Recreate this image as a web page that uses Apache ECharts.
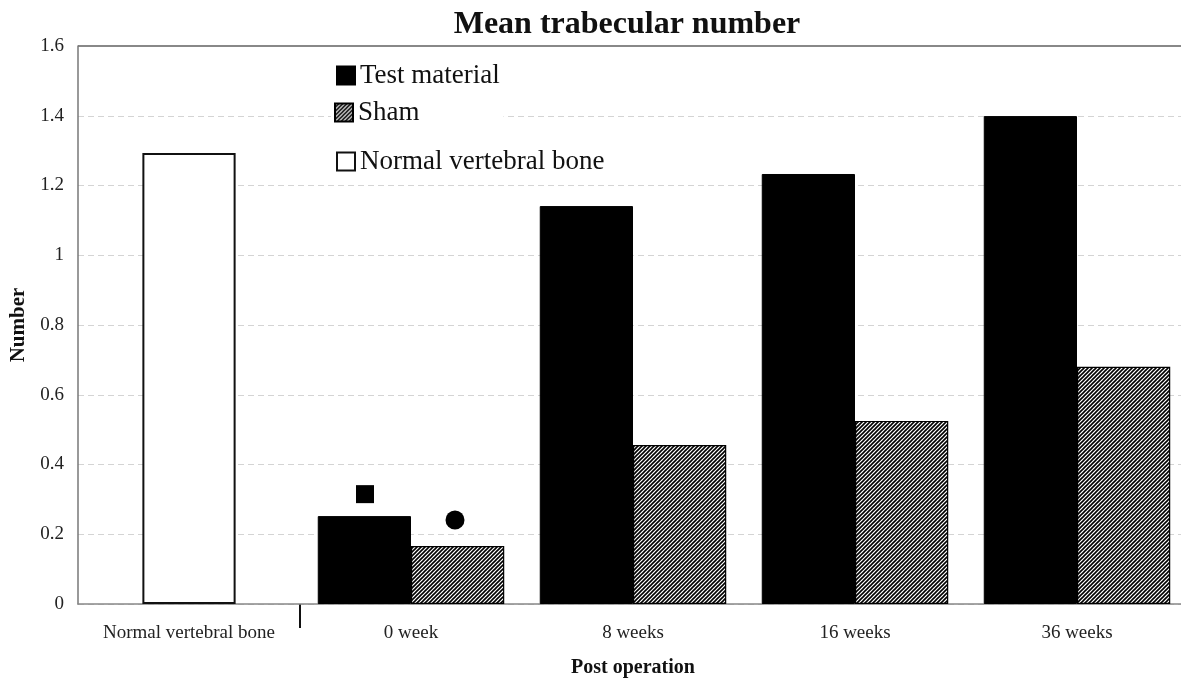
<!DOCTYPE html>
<html>
<head>
<meta charset="utf-8">
<script src="https://cdn.jsdelivr.net/npm/echarts@6/dist/echarts.min.js"></script>
<style>
  html, body { margin: 0; padding: 0; background: #fff; }
  #chart { width: 1181px; height: 683px; }
</style>
</head>
<body>
<div id="chart"></div>
<script>
// data
const categories = ['Normal vertebral bone', '0 week', '8 weeks', '16 weeks', '36 weeks'];
const testMaterial = ['-', 0.252, 1.141, 1.233, 1.399];
const sham = ['-', 0.166, 0.456, 0.525, 0.680];
const normalBone = [1.293, '-', '-', '-', '-'];
// significance markers above the 0 week bars
const markSquare = ['-', 0.315, '-', '-', '-'];
const markCircle = ['-', 0.241, '-', '-', '-'];
const yTicks = [0, 0.2, 0.4, 0.6, 0.8, 1, 1.2, 1.4, 1.6];

const FONT = '"Liberation Serif", "DejaVu Serif", serif';

// diagonal hatch used for the sham bars
function hatch() {
  const c = document.createElement('canvas');
  c.width = 4; c.height = 4;
  const g = c.getContext('2d');
  g.fillStyle = '#fff';
  g.fillRect(0, 0, 4, 4);
  g.strokeStyle = '#000';
  g.lineWidth = 1.6;
  g.beginPath();
  g.moveTo(-1, 5); g.lineTo(5, -1);
  g.moveTo(-1, 1); g.lineTo(1, -1);
  g.moveTo(3, 5); g.lineTo(5, 3);
  g.stroke();
  return c;
}

const chart = echarts.init(document.getElementById('chart'));
const legendText = { fontFamily: FONT, fontSize: 27, color: '#111' };
const legendBase = { icon: 'rect', left: 331, itemWidth: 18, itemHeight: 18, itemGap: 0,
  textStyle: legendText, selectedMode: false };

chart.setOption({
  animation: false,
  title: {
    text: 'Mean trabecular number',
    left: 622, top: 4, textAlign: 'center',
    textStyle: { fontFamily: FONT, fontSize: 32, fontWeight: 'bold', color: '#111' }
  },
  legend: [
    Object.assign({ data: ['Test material'], top: 57 }, legendBase),
    Object.assign({ data: ['Sham'], top: 95, backgroundColor: '#fff', padding: [4, 84, 4, 3] }, legendBase),
    Object.assign({ data: ['Normal vertebral bone'], top: 143 }, legendBase)
  ],
  grid: { left: 78, right: -7, top: 46, bottom: 79, outerBoundsMode: 'none' },
  xAxis: [
    {
      type: 'category', data: categories,
      name: 'Post operation', nameLocation: 'middle', nameGap: 54,
      nameTextStyle: { fontFamily: FONT, fontSize: 20, fontWeight: 'bold', color: '#111' },
      axisLine: { lineStyle: { color: '#888', width: 1.5 } },
      axisTick: { length: 5, lineStyle: { color: '#bbb' } },
      axisLabel: { interval: 0, fontFamily: FONT, fontSize: 19, color: '#222', margin: 20 }
    },
    { type: 'category', data: categories, show: false }
  ],
  yAxis: {
    type: 'value', min: 0, max: 1.6, interval: 0.2,
    name: 'Number', nameLocation: 'middle', nameGap: 49,
    nameTextStyle: { fontFamily: FONT, fontSize: 21, fontWeight: 'bold', color: '#111' },
    axisLine: { show: true, lineStyle: { color: '#777', width: 1.5 } },
    axisTick: { show: false },
    axisLabel: {
      fontFamily: FONT, fontSize: 19, color: '#222', margin: 14,
      formatter: v => String(yTicks.find(t => Math.abs(t - v) < 1e-6) ?? v)
    },
    splitLine: {
      lineStyle: { color: '#d4d4d4', type: [6, 4] }
    }
  },
  series: [
    {
      name: 'Test material', type: 'bar', data: testMaterial,
      barGap: '0%', barCategoryGap: '16%',
      itemStyle: { color: '#000', borderColor: '#000', borderWidth: 1 }
    },
    {
      name: 'Sham', type: 'bar', data: sham,
      itemStyle: { color: { image: hatch(), repeat: 'repeat' }, borderColor: '#000', borderWidth: 1.2 }
    },
    {
      name: 'Normal vertebral bone', type: 'bar', data: normalBone, xAxisIndex: 1,
      barWidth: '42%',
      itemStyle: { color: '#fff', borderColor: '#111', borderWidth: 2 }
    },
    {
      type: 'scatter', data: markSquare, symbol: 'rect', symbolSize: 18, symbolOffset: [-46, 0],
      itemStyle: { color: '#000', opacity: 1 }
    },
    {
      type: 'scatter', data: markCircle, symbol: 'circle', symbolSize: 19, symbolOffset: [44, 0],
      itemStyle: { color: '#000', opacity: 1 }
    }
  ]
});

// top border of the plot and the separator between the reference group and the time points
const x0 = chart.convertToPixel({ xAxisIndex: 0 }, categories[0]);
const x1 = chart.convertToPixel({ xAxisIndex: 0 }, categories[1]);
const yZero = chart.convertToPixel({ yAxisIndex: 0 }, 0);
const yTop = chart.convertToPixel({ yAxisIndex: 0 }, 1.6);
const sepX = Math.round((x0 + x1) / 2);
const leftX = x0 - (x1 - x0) / 2;
chart.setOption({
  graphic: [
    { type: 'line', shape: { x1: sepX, y1: yZero, x2: sepX, y2: yZero + 24 },
      style: { stroke: '#111', lineWidth: 2 } },
    { type: 'line', shape: { x1: leftX, y1: yTop, x2: 1181, y2: yTop },
      style: { stroke: '#888', lineWidth: 2 } }
  ]
});
</script>
</body>
</html>
